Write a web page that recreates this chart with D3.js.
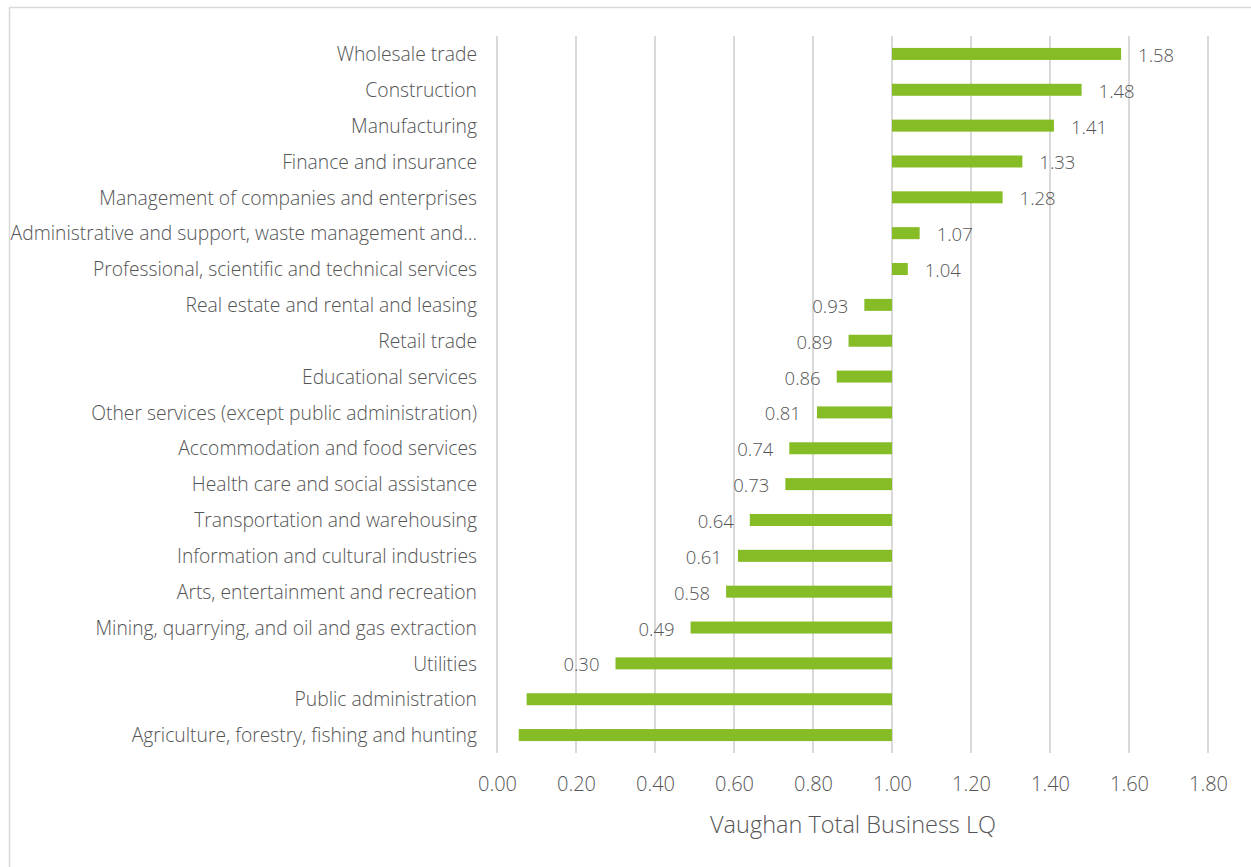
<!DOCTYPE html>
<html>
<head>
<meta charset="utf-8">
<script src="https://cdn.jsdelivr.net/npm/d3@7"></script>
<style>
  html, body { margin: 0; padding: 0; background: #fff; }
  svg { display: block; font-family: "Open Sans", sans-serif; font-weight: 300; }
</style>
</head>
<body>
<svg id="chart" width="1251" height="867"></svg>
<script>
// Location quotients by industry (bars run from the 1.00 baseline)
const industries = [
  "Wholesale trade",
  "Construction",
  "Manufacturing",
  "Finance and insurance",
  "Management of companies and enterprises",
  "Administrative and support, waste management and…",
  "Professional, scientific and technical services",
  "Real estate and rental and leasing",
  "Retail trade",
  "Educational services",
  "Other services (except public administration)",
  "Accommodation and food services",
  "Health care and social assistance",
  "Transportation and warehousing",
  "Information and cultural industries",
  "Arts, entertainment and recreation",
  "Mining, quarrying, and oil and gas extraction",
  "Utilities",
  "Public administration",
  "Agriculture, forestry, fishing and hunting"
];
const lqValues = [1.58, 1.48, 1.41, 1.33, 1.28, 1.07, 1.04, 0.93, 0.89, 0.86,
                  0.81, 0.74, 0.73, 0.64, 0.61, 0.58, 0.49, 0.30, 0.075, 0.055];
// Value labels shown beside bars (the two smallest bars carry none)
const valueLabels = ["1.58", "1.48", "1.41", "1.33", "1.28", "1.07", "1.04", "0.93", "0.89", "0.86",
                     "0.81", "0.74", "0.73", "0.64", "0.61", "0.58", "0.49", "0.30", "", ""];
const xTicks = [0, 0.2, 0.4, 0.6, 0.8, 1.0, 1.2, 1.4, 1.6, 1.8];
const baseline = 1.0;
const axisTitle = "Vaughan Total Business LQ";

const FONT = "'Open Sans', sans-serif";
const TEXT = "#555555";

const svg = d3.select("#chart");

// chart frame
svg.append("rect")
  .attr("x", 9.5).attr("y", 7.5)
  .attr("width", 1260).attr("height", 880)
  .attr("fill", "#fff").attr("stroke", "#d9d9d9").attr("stroke-width", 1.5);

const plot = { left: 497, right: 1208, top: 36, bottom: 753 };

const x = d3.scaleLinear().domain([0, 1.8]).range([plot.left, plot.right]);
const y = d3.scaleBand().domain(industries).range([plot.top, plot.bottom]);

// vertical gridlines
svg.append("g")
  .selectAll("line")
  .data(xTicks)
  .join("line")
  .attr("x1", d => x(d)).attr("x2", d => x(d))
  .attr("y1", plot.top).attr("y2", plot.bottom)
  .attr("stroke", "#d9d9d9").attr("stroke-width", 2);

// x tick labels via d3 axis
const xAxis = d3.axisBottom(x).tickValues(xTicks).tickFormat(d3.format(".2f")).tickSize(0).tickPadding(0);
const gx = svg.append("g")
  .attr("transform", `translate(0, ${plot.bottom + 24})`)
  .call(xAxis);
gx.select(".domain").remove();
gx.selectAll("text")
  .attr("font-size", 20)
  .attr("font-family", FONT)
  .attr("font-weight", 300)
  .attr("fill", TEXT);

// category labels via d3 axis
const yAxis = d3.axisLeft(y).tickSize(0).tickPadding(0);
const gy = svg.append("g")
  .attr("transform", `translate(${plot.left - 20}, 1)`)
  .call(yAxis);
gy.select(".domain").remove();
gy.selectAll("text")
  .attr("font-size", 19.3)
  .attr("font-family", FONT)
  .attr("font-weight", 300)
  .attr("fill", TEXT);

// bars from baseline
const barH = 12;
const rows = industries.map((name, i) => ({ name, value: lqValues[i], label: valueLabels[i] }));

svg.append("g")
  .selectAll("rect")
  .data(rows)
  .join("rect")
  .attr("x", d => Math.min(x(d.value), x(baseline)))
  .attr("width", d => Math.abs(x(d.value) - x(baseline)))
  .attr("y", d => y(d.name) + y.bandwidth() / 2 - barH / 2)
  .attr("height", barH)
  .attr("fill", "#86bc25");

// value labels at the outer end of each bar
svg.append("g")
  .selectAll("text")
  .data(rows.filter(d => d.label))
  .join("text")
  .attr("x", d => d.value >= baseline ? x(d.value) + 17 : x(d.value) - 16)
  .attr("y", d => y(d.name) + y.bandwidth() / 2 + 1.5)
  .attr("dy", "0.35em")
  .attr("text-anchor", d => d.value >= baseline ? "start" : "end")
  .attr("font-size", 18.5)
  .attr("font-family", FONT)
  .attr("font-weight", 300)
  .attr("fill", TEXT)
  .text(d => d.label);

// axis title
svg.append("text")
  .attr("x", 853)
  .attr("y", 825)
  .attr("dy", "0.35em")
  .attr("text-anchor", "middle")
  .attr("font-size", 23.5)
  .attr("font-family", FONT)
  .attr("font-weight", 300)
  .attr("fill", TEXT)
  .text(axisTitle);
</script>
</body>
</html>
